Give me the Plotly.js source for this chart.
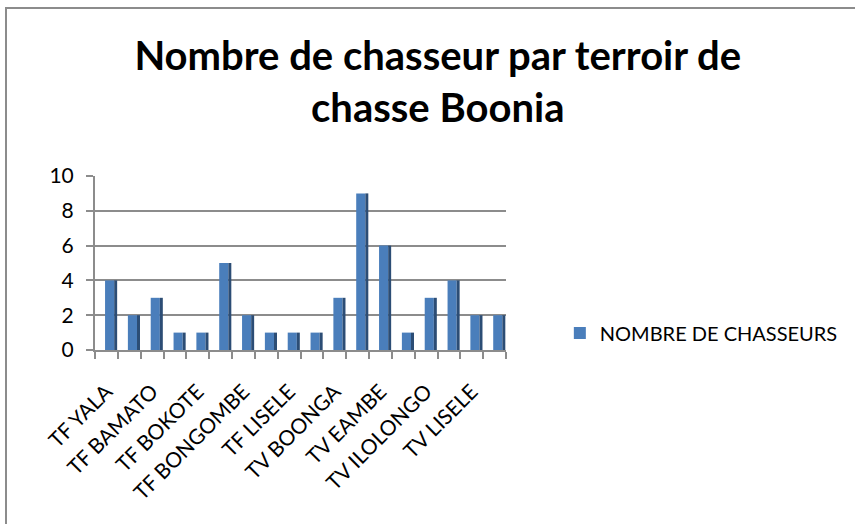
<!DOCTYPE html>
<html>
<head>
<meta charset="utf-8">
<script src="https://cdn.plot.ly/plotly-3.0.1.min.js"></script>
<style>
  html, body { margin: 0; padding: 0; background: #fff; }
  #wrap { position: relative; width: 855px; height: 524px; }
  #chart { position: absolute; left: 0; top: 0; width: 855px; height: 524px; }
  #frame { position: absolute; left: 5px; top: 7px; width: 860px; height: 530px;
           border-left: 2px solid #8c8c8c; border-top: 2px solid #8c8c8c; pointer-events: none; }
</style>
</head>
<body>
<div id="wrap"><div id="chart"></div><div id="frame"></div></div>
<script>
// Categories (only every other one is labelled in the reference; the hidden names are placeholders)
const categories = [
  "TF YALA", "Terroir 2", "TF BAMATO", "Terroir 4", "TF BOKOTE", "Terroir 6",
  "TF BONGOMBE", "Terroir 8", "TF LISELE", "Terroir 10", "TV BOONGA", "Terroir 12",
  "TV EAMBE", "Terroir 14", "TV ILOLONGO", "Terroir 16", "TV LISELE", "Terroir 18"
];
const labelledCategories = ["TF YALA", "TF BAMATO", "TF BOKOTE", "TF BONGOMBE", "TF LISELE",
  "TV BOONGA", "TV EAMBE", "TV ILOLONGO", "TV LISELE"];
const chasseurs = [4, 2, 3, 1, 1, 5, 2, 1, 1, 1, 3, 9, 6, 1, 3, 4, 2, 2];
const seriesName = "NOMBRE DE CHASSEURS";
const yTicks = [0, 2, 4, 6, 8, 10];

const xIdx = categories.map((c, i) => i);
const tickIdx = labelledCategories.map(c => categories.indexOf(c));

const font = "Lato, 'Open Sans', sans-serif";

const front = {
  type: "bar", x: xIdx, y: chasseurs, name: seriesName,
  width: 0.4, offset: -0.06,
  marker: { color: "#4a7ebb", line: { width: 0 } },
  hoverinfo: "y"
};
const side = {
  type: "bar", x: xIdx, y: chasseurs, showlegend: false,
  width: 0.13, offset: 0.34,
  marker: { color: "#2c4d75", line: { width: 0 } },
  hoverinfo: "skip"
};

const layout = {
  width: 855, height: 524,
  margin: { l: 95, r: 342, t: 176, b: 174 },
  paper_bgcolor: "#ffffff", plot_bgcolor: "#ffffff",
  barmode: "overlay",
  showlegend: true,
  title: {
    text: "Nombre de chasseur par terroir de<br>chasse Boonia",
    font: { family: font, size: 40, color: "#000", weight: "bold" },
    x: 0.512, xref: "container", xanchor: "center",
    y: 0.866, yref: "container", yanchor: "top"
  },
  xaxis: {
    type: "linear", range: [-0.5, 17.5],
    tickmode: "array", tickvals: tickIdx, ticktext: labelledCategories,
    tickangle: -45, ticks: "", ticklabelstandoff: 19,
    tickfont: { family: font, size: 21, color: "#000" },
    showgrid: false, zeroline: false,
    showline: true, linecolor: "#8c8c8c", linewidth: 2,
    minor: { tick0: -0.5, dtick: 1, ticks: "outside", ticklen: 7, tickcolor: "#8c8c8c", tickwidth: 2, showgrid: false },
    fixedrange: true
  },
  yaxis: {
    range: [0, 10], tickmode: "array", tickvals: yTicks,
    ticks: "outside", ticklen: 7, tickcolor: "#8c8c8c", tickwidth: 2,
    ticklabelstandoff: 8,
    tickfont: { family: font, size: 21, color: "#000" },
    showgrid: true, gridcolor: "#8c8c8c", gridwidth: 2,
    zeroline: false, showline: true, linecolor: "#8c8c8c", linewidth: 2,
    fixedrange: true
  },
  legend: {
    x: 1.131, xanchor: "left", y: 0.098, yanchor: "middle",
    font: { family: font, size: 20, color: "#000" },
    bgcolor: "rgba(0,0,0,0)"
  }
};

Plotly.newPlot("chart", [front, side], layout, { displayModeBar: false, staticPlot: true });
</script>
</body>
</html>
